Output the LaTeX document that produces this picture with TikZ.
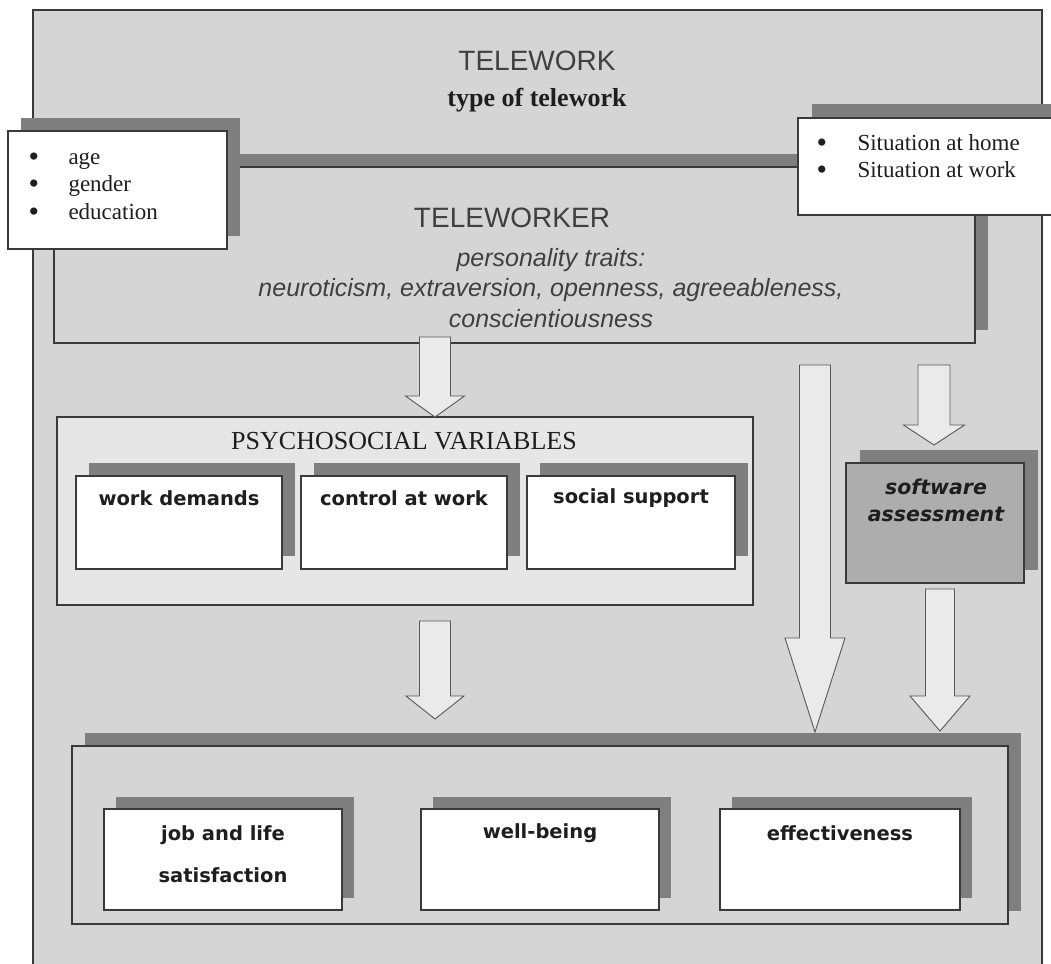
\documentclass[tikz,border=0pt]{standalone}
\usepackage{fontspec}
\setmainfont{Liberation Serif}
\newfontfamily\arialf{Liberation Sans}
\newfontfamily\verdf{DejaVu Sans}
\usetikzlibrary{shadows,calc}

\definecolor{panelgray}{HTML}{D5D5D5}
\definecolor{lightpanel}{HTML}{E6E6E6}
\definecolor{shadegray}{HTML}{7F7F7F}
\definecolor{softgray}{HTML}{ADADAD}
\definecolor{edgegray}{HTML}{3A3A3A}
\definecolor{arrowfill}{HTML}{EAEAEA}
\definecolor{ink}{HTML}{1E1E1E}

% hollow block arrow pointing down: start, tip, shaft half width, head half width, head length
\newcommand\blockarrow[5]{%
  \draw[arrowbody] let \p1=(#1), \p2=(#2) in
    (\x1-#3,\y1) -- (\x1-#3,\y2+#5) -- (\x1-#4,\y2+#5) -- (\x1,\y2)
    -- (\x1+#4,\y2+#5) -- (\x1+#3,\y2+#5) -- (\x1+#3,\y1) -- cycle;}
% list bullet, a little larger than the text's own
\newcommand\listdot[1]{\makebox[#1][l]{\smash{\raisebox{-2pt}{\fontsize{30}{27.5}\selectfont\textbullet}}}}

\begin{document}
\begin{tikzpicture}[x=1pt,y=-1pt,
  frame/.style={draw=edgegray, line width=1.2pt, anchor=north west,
    inner sep=0pt, outer sep=0pt},
  shade/.style={drop shadow={shadow xshift=#1, shadow yshift=#1,
    fill=shadegray, opacity=1}},
  shade/.default=13pt,
  arrowbody/.style={draw=edgegray!85, line width=0.9pt, fill=arrowfill, line join=miter},
  headsans/.style={font=\arialf\fontsize{28}{34}\selectfont, text=ink!85},
  italsans/.style={font=\arialf\itshape\fontsize{25}{30.5}\selectfont, text=ink!85, align=center},
  serifbold/.style={font=\bfseries\fontsize{26}{30}\selectfont, text=ink},
  seriflist/.style={font=\fontsize{23}{27.5}\selectfont, text=ink, align=left, anchor=west},
  boldsans/.style={font=\verdf\bfseries\fontsize{19.5}{42}\selectfont, text=ink, align=center},
  obliquesans/.style={font=\verdf\bfseries\itshape\fontsize{20.5}{27}\selectfont, text=ink, align=center}
]
\clip (0,0) rectangle (1051,963);
\fill[white] (0,0) rectangle (1051,963);

% outer telework panel
\node[frame, fill=panelgray, minimum width=1009, minimum height=990] (telework) at (33,10) {};
\node[headsans] (twtitle) at (537,61) {TELEWORK};
\node[serifbold] (twtype) at (537,100) {type of telework};

% teleworker panel
\node[frame, fill=panelgray, shade, minimum width=921, minimum height=176] (worker) at (54,167) {};
\node[headsans] (wtitle) at (512,218) {TELEWORKER};
\node[italsans] (traits) at (551,288) {personality traits:\\
  neuroticism, extraversion, openness, agreeableness,\\conscientiousness};

% side boxes
\node[frame, fill=white, shade, minimum width=219, minimum height=118] (demog) at (8,131) {};
\node[seriflist] (demogtext) at (25,186) {%
  \listdot{40pt}age\\
  \listdot{40pt}gender\\
  \listdot{40pt}education};
\node[frame, fill=white, shade=14pt, minimum width=280, minimum height=97] (situ) at (798,118) {};
\node[seriflist] (situtext) at (813,156) {%
  \listdot{41pt}Situation at home\\
  \listdot{41pt}Situation at work};

% psychosocial variables
\node[frame, fill=lightpanel, minimum width=696, minimum height=188] (psycho) at (57,417) {};
\node[font=\fontsize{26}{30}\selectfont, text=ink] (psytitle) at (404,441) {PSYCHOSOCIAL VARIABLES};
\node[frame, fill=white, shade, minimum width=206, minimum height=93] (demands) at (76,476) {};
\node[frame, fill=white, shade, minimum width=206, minimum height=93] (control) at (301,476) {};
\node[frame, fill=white, shade, minimum width=208, minimum height=93] (support) at (527,476) {};
\node[boldsans] (demandstext) at (179,498) {work demands};
\node[boldsans] (controltext) at (404,498) {control at work};
\node[boldsans] (supporttext) at (631,498) {social support};

% software assessment
\node[frame, fill=softgray, shade=13.5pt, minimum width=178, minimum height=120] (soft) at (846,463) {};
\node[obliquesans] (softtext) at (936,500) {software\\assessment};

% outcomes
\node[frame, fill=panelgray, shade, minimum width=936, minimum height=178] (result) at (72,746) {};
\node[frame, fill=white, shade=12pt, minimum width=238, minimum height=101] (job) at (104,809) {};
\node[frame, fill=white, shade=12pt, minimum width=238, minimum height=101] (well) at (421,809) {};
\node[frame, fill=white, shade=12pt, minimum width=240, minimum height=101] (eff) at (720,809) {};
\node[boldsans] (jobtext) at (223,854) {job and life\\satisfaction};
\node[boldsans] (welltext) at (540,833) {well-being};
\node[boldsans] (efftext) at (840,833) {effectiveness};

% block arrows
\coordinate (a1s) at (435,337);
\coordinate (a2s) at (435,621);
\coordinate (a2e) at (435,719);
\coordinate (a3s) at (815,365);
\coordinate (a3e) at (815,732);
\coordinate (a4s) at (934,365);
\coordinate (a4e) at (934,445);
\coordinate (a5s) at (940,589);
\coordinate (a5e) at (940,731);
\blockarrow{a1s}{a1s |- psycho.north}{15.5pt}{29.5pt}{21pt}
\blockarrow{a2s}{a2e}{15.5pt}{29pt}{23pt}
\blockarrow{a3s}{a3e}{15.5pt}{30pt}{94pt}
\blockarrow{a4s}{a4e}{16pt}{30.5pt}{20pt}
\blockarrow{a5s}{a5e}{14.5pt}{30pt}{35pt}
\end{tikzpicture}
\end{document}
